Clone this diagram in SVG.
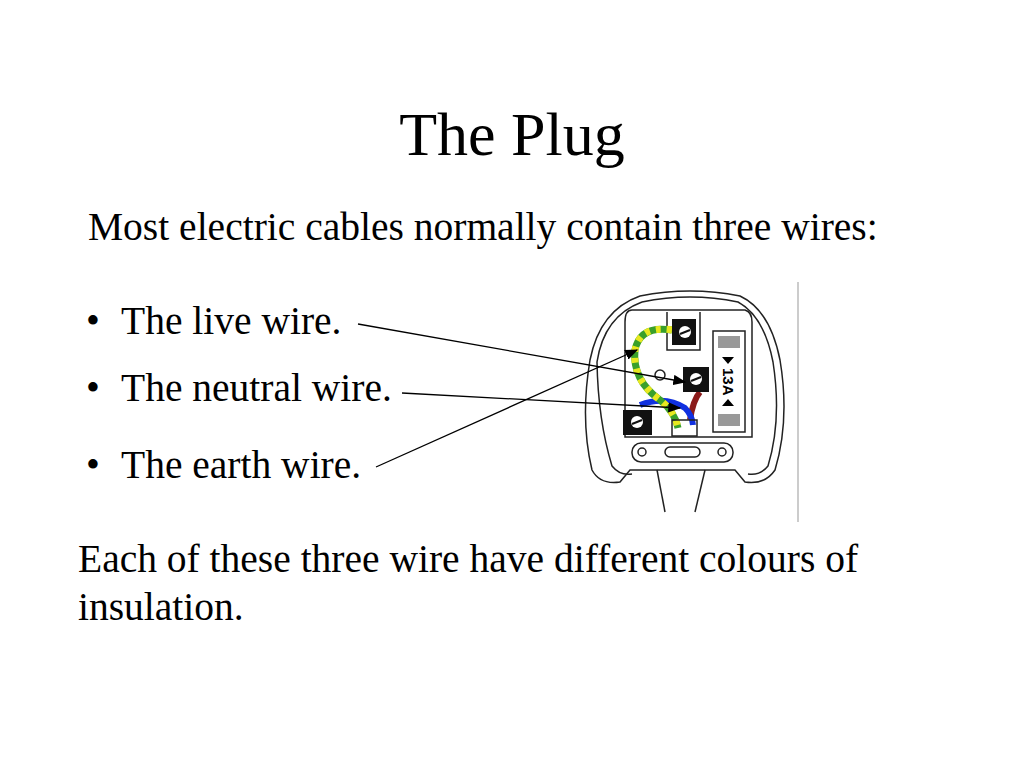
<svg xmlns="http://www.w3.org/2000/svg" width="1024" height="768" viewBox="0 0 1024 768">
<style>
text{font-family:"Liberation Serif","Times New Roman",serif;fill:#000}
.t{font-size:39.5px}
.o{fill:none;stroke:#222;stroke-width:1.5}
.term{fill:#111}
</style>
<defs><marker id="a" markerWidth="10" markerHeight="8" refX="9" refY="4" orient="auto"><path d="M0,0L10,4L0,8z" fill="#000"/></marker></defs>
<rect width="1024" height="768" fill="#fff"/>
<text x="512" y="155" font-size="62" text-anchor="middle">The Plug</text>
<text class="t" x="88" y="240">Most electric cables normally contain three wires:</text>
<text class="t" x="86" y="334">•</text><text class="t" x="121" y="334">The live wire.</text>
<text class="t" x="86" y="401">•</text><text class="t" x="121" y="401">The neutral wire.</text>
<text class="t" x="86" y="478">•</text><text class="t" x="121" y="478">The earth wire.</text>
<text class="t" x="78" y="572">Each of these three wire have different colours of</text>
<text class="t" x="78" y="620">insulation.</text>
<g id="plug">
<line x1="798" y1="282" x2="798" y2="522" stroke="#bbb" stroke-width="1.5"/>
<path class="o" d="M640,296 Q690,286 740,296 Q770,310 780,360 Q790,420 775,470 Q765,485 745,482 L735,470 L630,470 L620,482 Q600,485 592,470 Q580,420 590,360 Q600,310 640,296z"/>
<path class="o" d="M642,302 Q690,292 738,302 Q764,316 773,362 Q782,420 768,466 Q760,476 748,474 M632,474 Q620,476 612,466 Q598,420 597,362 Q604,316 642,302"/>
<path class="o" d="M632,310 L745,310 Q752,312 752,322 L752,437 L625,437 L625,322 Q625,310 632,310z"/>
<path class="o" d="M667,312 L667,350 L700,350 L700,312"/>
<rect x="713" y="331" width="32" height="101" class="o"/>
<text x="0" y="0" font-family="Liberation Sans,Arial,sans-serif" font-size="15" font-weight="bold" style="font-family:'Liberation Sans',Arial,sans-serif" transform="translate(723,368) rotate(90)">13A</text>
<path d="M722,357 L734,357 L728,364z M722,406 L734,406 L728,399z" fill="#000"/>
<rect x="718" y="336" width="22" height="12" fill="#999"/>
<rect x="718" y="414" width="22" height="12" fill="#999"/>
<rect x="632" y="443" width="101" height="19" rx="9" class="o"/>
<rect x="665" y="447" width="35" height="10" rx="5" class="o"/>
<circle cx="642" cy="452" r="4" class="o"/><circle cx="722" cy="452" r="4" class="o"/>
<line x1="657" y1="470" x2="665" y2="512" class="o"/>
<line x1="705" y1="470" x2="695" y2="512" class="o"/>
<circle cx="660" cy="375" r="5" class="o"/>
<path d="M690,420 Q693,400 700,392" stroke="#8b1a1a" stroke-width="6" fill="none"/>
<path d="M640,405 Q665,395 685,408 Q692,415 693,425" stroke="#1030e0" stroke-width="6" fill="none"/>
<path d="M672,330 Q640,325 635,350 Q632,380 660,400 Q675,412 678,428" stroke="#3aa02a" stroke-width="7" fill="none"/>
<path d="M672,330 Q640,325 635,350 Q632,380 660,400 Q675,412 678,428" stroke="#e8e820" stroke-width="7" stroke-dasharray="5 6" fill="none"/>
<rect x="672" y="420" width="25" height="16" fill="#fff" class="o"/>
<rect x="672" y="319" width="24" height="26" class="term"/>
<circle cx="685" cy="332" r="6" fill="#fff"/><line x1="680" y1="334" x2="690" y2="330" stroke="#111" stroke-width="2"/>
<rect x="683" y="367" width="26" height="25" class="term"/>
<circle cx="696" cy="379" r="6" fill="#fff"/><line x1="691" y1="381" x2="701" y2="377" stroke="#111" stroke-width="2"/>
<rect x="623" y="410" width="29" height="25" class="term"/>
<circle cx="637" cy="422" r="6" fill="#fff"/><line x1="632" y1="424" x2="642" y2="420" stroke="#111" stroke-width="2"/>
</g>
<g id="connectors" stroke="#000" stroke-width="1.3">
<line x1="358" y1="324" x2="685" y2="382" marker-end="url(#a)"/>
<line x1="402" y1="393" x2="680" y2="408" marker-end="url(#a)"/>
<line x1="376" y1="467" x2="637" y2="350" marker-end="url(#a)"/>
</g>
</svg>
